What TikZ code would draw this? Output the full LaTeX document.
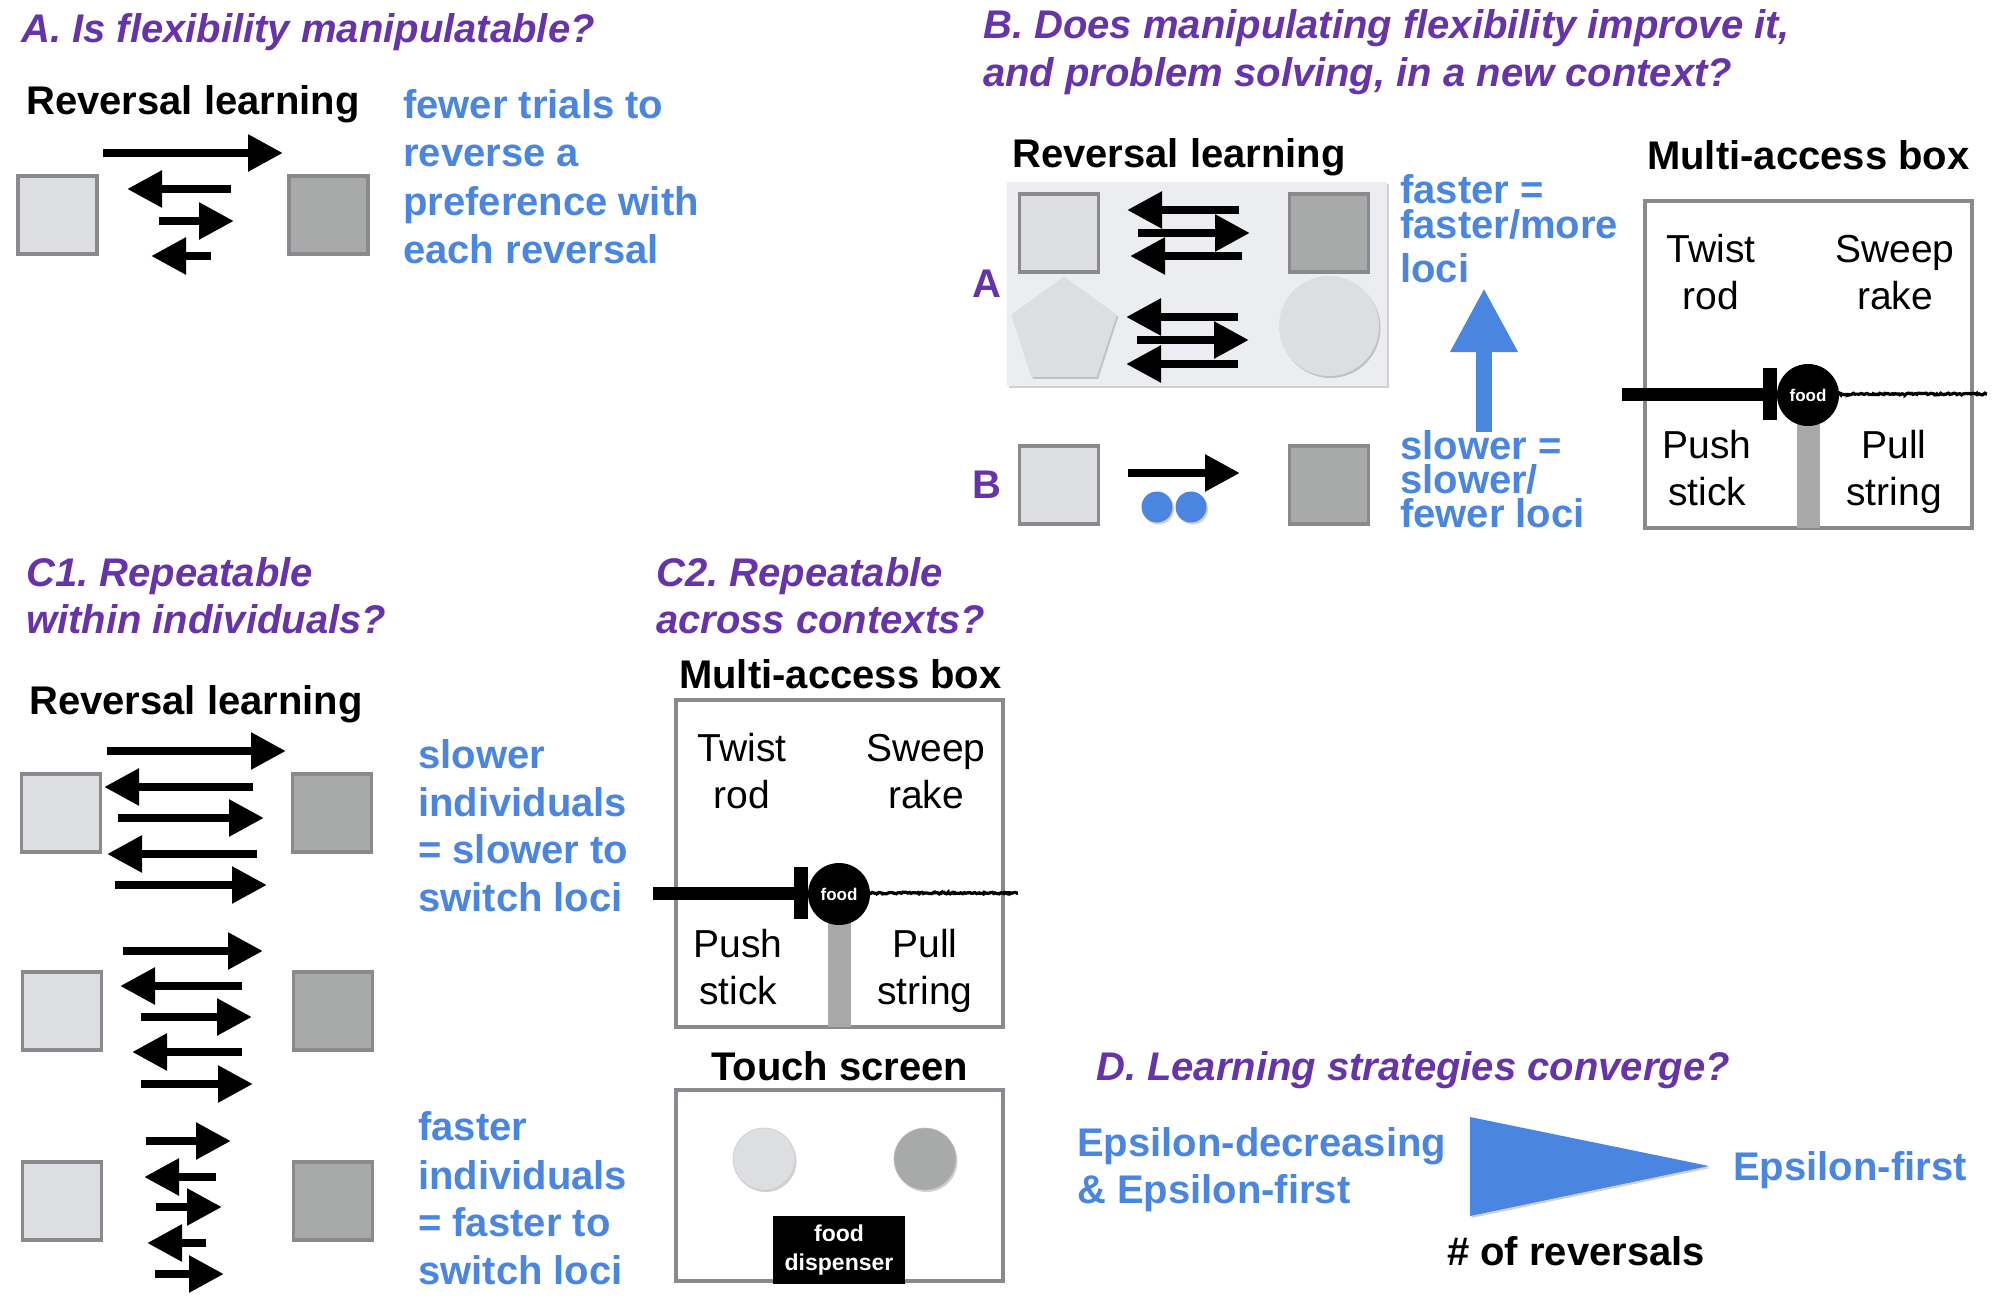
\documentclass[tikz,border=0pt]{standalone}
\usepackage{fontspec}
\setmainfont{Liberation Sans}
\usetikzlibrary{arrows.meta,shapes.geometric,decorations.pathmorphing,shadows}
\frenchspacing

\definecolor{headpurple}{RGB}{102,51,170}
\definecolor{noteblue}{RGB}{74,134,224}
\definecolor{cardlight}{RGB}{221,222,225}
\definecolor{carddark}{RGB}{168,169,169}
\definecolor{cardedge}{RGB}{137,137,142}
\definecolor{panelbg}{RGB}{236,237,241}
\definecolor{postgray}{RGB}{168,168,168}

\newcommand\pxfont[1]{\fontsize{#1}{#1}\selectfont}

\tikzset{
  txt/.style={inner sep=0pt, anchor=base west},
  qhead/.style={txt, text=headpurple, font=\pxfont{40}\bfseries\itshape},
  bluenote/.style={txt, text=noteblue, font=\pxfont{40}\bfseries},
  task/.style={txt, font=\pxfont{40}\bfseries},
  part/.style={inner sep=0pt, anchor=base, font=\pxfont{39}},
  lightcard/.style={draw=cardedge, line width=3.5pt, fill=cardlight,
    minimum width=79pt, minimum height=78pt, inner sep=0pt},
  darkcard/.style={lightcard, fill=carddark},
  rev/.style={line width=8.5pt, -{Triangle[length=35pt,width=35pt]}},
  softshadow/.style={drop shadow={shadow xshift=1.5pt, shadow yshift=-2pt,
    opacity=0.18, fill=black}},
  % multi-access box: origin at its top-left corner, 327 x 327
  pics/mabox/.style={code={
    \node[draw=cardedge, line width=3.5pt, minimum width=327pt,
      minimum height=327pt, inner sep=0pt] (-frame) at (163.5,163.5) {};
    \node[part] (-twist) at (66,61) {Twist};
    \node[part] (-rod) at (66,108) {rod};
    \node[part] (-sweep) at (250,61) {Sweep};
    \node[part] (-rake) at (250,108) {rake};
    \node[part] (-push) at (62,257) {Push};
    \node[part] (-stick) at (62,304) {stick};
    \node[part] (-pull) at (249,257) {Pull};
    \node[part] (-string) at (249,304) {string};
    \fill[postgray] (152,215) rectangle (175,327);
    \fill[black] (-23,186.5) rectangle (125,199.5);
    \fill[black] (118,167) rectangle (132,219);
    \draw[line width=3.2pt, decorate,
      decoration={random steps, segment length=1.5pt, amplitude=0.9pt}]
      (192,193) -- (342,193);
    \node[circle, fill=black, minimum size=62pt, inner sep=0pt, text=white,
      font=\pxfont{17}\bfseries] (-food) at (163,194) {food};
  }},
}

\begin{document}
\begin{tikzpicture}[x=1pt, y=-1pt]
\useasboundingbox[fill=white] (0,0) rectangle (2000,1308);

% ---------------- A ----------------
\node[qhead] (tA) at (21,43) {A. Is flexibility manipulatable?};
\node[task] (rlA) at (26,115) {Reversal learning};
\node[lightcard] (sqA1) at (57.5,215) {};
\node[darkcard] (sqA2) at (328.5,215) {};
\draw[rev] (103,153) -- (283,153);
\draw[rev] (231,189) -- (127,189);
\draw[rev] (159,221) -- (234,221);
\draw[rev] (211,256) -- (151,256);
\node[bluenote] (nA1) at (403,119) {fewer trials to};
\node[bluenote] (nA2) at (403,167) {reverse a};
\node[bluenote] (nA3) at (403,215) {preference with};
\node[bluenote] (nA4) at (403,263) {each reversal};

% ---------------- B ----------------
\node[qhead] (tB1) at (983,39) {B. Does manipulating flexibility improve it,};
\node[qhead] (tB2) at (983,87) {and problem solving, in a new context?};
\node[task] (rlB) at (1012,168) {Reversal learning};
\node[fill=panelbg, minimum width=380pt, minimum height=204pt, inner sep=0pt,
  softshadow] (panel) at (1197,284) {};
\node[lightcard] (sqB1) at (1059,233) {};
\node[darkcard] (sqB2) at (1329,233) {};
\node[regular polygon, regular polygon sides=5, minimum size=111pt,
  inner sep=0pt, fill=cardlight, softshadow] (penta) at (1064,332) {};
\node[circle, minimum size=100pt, inner sep=0pt, fill=cardlight,
  softshadow] (disc) at (1329,326) {};
\draw[rev] (1239,210) -- (1127,210);
\draw[rev] (1138,233) -- (1250,233);
\draw[rev] (1242,256) -- (1130,256);
\draw[rev] (1238,317) -- (1126,317);
\draw[rev] (1137,340) -- (1249,340);
\draw[rev] (1238,364) -- (1126,364);
\node[txt, text=headpurple, font=\pxfont{40}\bfseries] (grpA) at (972,297) {A};
\node[txt, text=headpurple, font=\pxfont{40}\bfseries] (grpB) at (972,498) {B};
\node[lightcard] (sqB3) at (1059,485) {};
\node[darkcard] (sqB4) at (1329,485) {};
\draw[rev] (1128,473) -- (1240,473);
\node[circle, fill=noteblue, minimum size=31pt, inner sep=0pt, softshadow] (dot1) at (1157,507) {};
\node[circle, fill=noteblue, minimum size=31pt, inner sep=0pt, softshadow] (dot2) at (1191,507) {};
\node[bluenote] (nB1) at (1400,204) {faster =};
\node[bluenote] (nB2) at (1400,239) {faster/more};
\node[bluenote] (nB3) at (1400,282) {loci};
\node[bluenote] (nB4) at (1400,459) {slower =};
\node[bluenote] (nB5) at (1400,493) {slower/};
\node[bluenote] (nB6) at (1400,527) {fewer loci};
\coordinate (upfrom) at (1484,432);
\coordinate (upto) at (1484,288);
\draw[noteblue, line width=16pt, -{Triangle[length=64pt,width=63pt]}] (upfrom) -- (upto);
\node[task] (mabB) at (1647,170) {Multi-access box};
\pic (boxB) at (1645,201) {mabox};

% ---------------- C1 ----------------
\node[qhead] (tC1a) at (26,586) {C1. Repeatable};
\node[qhead] (tC1b) at (26,633) {within individuals?};
\node[task] (rlC) at (29,714) {Reversal learning};
\node[lightcard] (sqC1) at (61,813) {};
\node[darkcard] (sqC2) at (332,813) {};
\node[lightcard] (sqC3) at (62,1011) {};
\node[darkcard] (sqC4) at (333,1011) {};
\node[lightcard] (sqC5) at (62,1201) {};
\node[darkcard] (sqC6) at (333,1201) {};
% slow individual
\draw[rev] (107,751) -- (286,751);
\draw[rev] (253,787) -- (104,787);
\draw[rev] (118,818) -- (264,818);
\draw[rev] (257,854) -- (107,854);
\draw[rev] (115,885) -- (267,885);
% intermediate individual
\draw[rev] (123,951) -- (263,951);
\draw[rev] (242,986) -- (120,986);
\draw[rev] (141,1017) -- (252,1017);
\draw[rev] (242,1052) -- (132,1052);
\draw[rev] (141,1084) -- (253,1084);
% fast individual
\draw[rev] (146,1141) -- (231,1141);
\draw[rev] (216,1177) -- (144,1177);
\draw[rev] (156,1207) -- (222,1207);
\draw[rev] (206,1243) -- (147,1243);
\draw[rev] (155,1274) -- (224,1274);
\node[bluenote] (nC1) at (418,768) {slower};
\node[bluenote] (nC2) at (418,816) {individuals};
\node[bluenote] (nC3) at (418,863) {= slower to};
\node[bluenote] (nC4) at (418,911) {switch loci};
\node[bluenote] (nC5) at (418,1140) {faster};
\node[bluenote] (nC6) at (418,1189) {individuals};
\node[bluenote] (nC7) at (418,1236) {= faster to};
\node[bluenote] (nC8) at (418,1284) {switch loci};

% ---------------- C2 ----------------
\node[qhead] (tC2a) at (656,586) {C2. Repeatable};
\node[qhead] (tC2b) at (656,633) {across contexts?};
\node[task] (mabC) at (679,688) {Multi-access box};
\pic (boxC) at (676,700) {mabox};
\node[task] (tsC) at (711,1080) {Touch screen};
\node[draw=cardedge, line width=3.5pt, minimum width=327pt, minimum height=191pt,
  inner sep=0pt] (screen) at (839.5,1185.5) {};
\node[circle, minimum size=62pt, inner sep=0pt, fill=cardlight, draw=black!20,
  line width=0.6pt, softshadow] (keyL) at (764,1159) {};
\node[circle, minimum size=62pt, inner sep=0pt, fill=carddark, draw=black!25,
  line width=0.6pt, softshadow] (keyR) at (925,1159) {};
\node[fill=black, minimum width=132pt, minimum height=68pt, inner sep=0pt,
  text=white, align=center, font=\fontsize{23}{29}\selectfont\bfseries]
  (dispenser) at (839,1250) {food\\dispenser};

% ---------------- D ----------------
\node[qhead] (tD) at (1096,1080) {D. Learning strategies converge?};
\node[bluenote] (nD1) at (1077,1156) {Epsilon-decreasing};
\node[bluenote] (nD2) at (1077,1203) {\& Epsilon-first};
\coordinate (wedgeTop) at (1470,1117);
\coordinate (wedgeBot) at (1470,1216);
\coordinate (wedgeTip) at (1709,1166);
\fill[noteblue, softshadow] (wedgeTop) -- (wedgeBot) -- (wedgeTip) -- cycle;
\node[bluenote] (nD3) at (1733,1180) {Epsilon-first};
\node[task] (nrev) at (1447,1265) {\# of reversals};
\end{tikzpicture}
\end{document}
